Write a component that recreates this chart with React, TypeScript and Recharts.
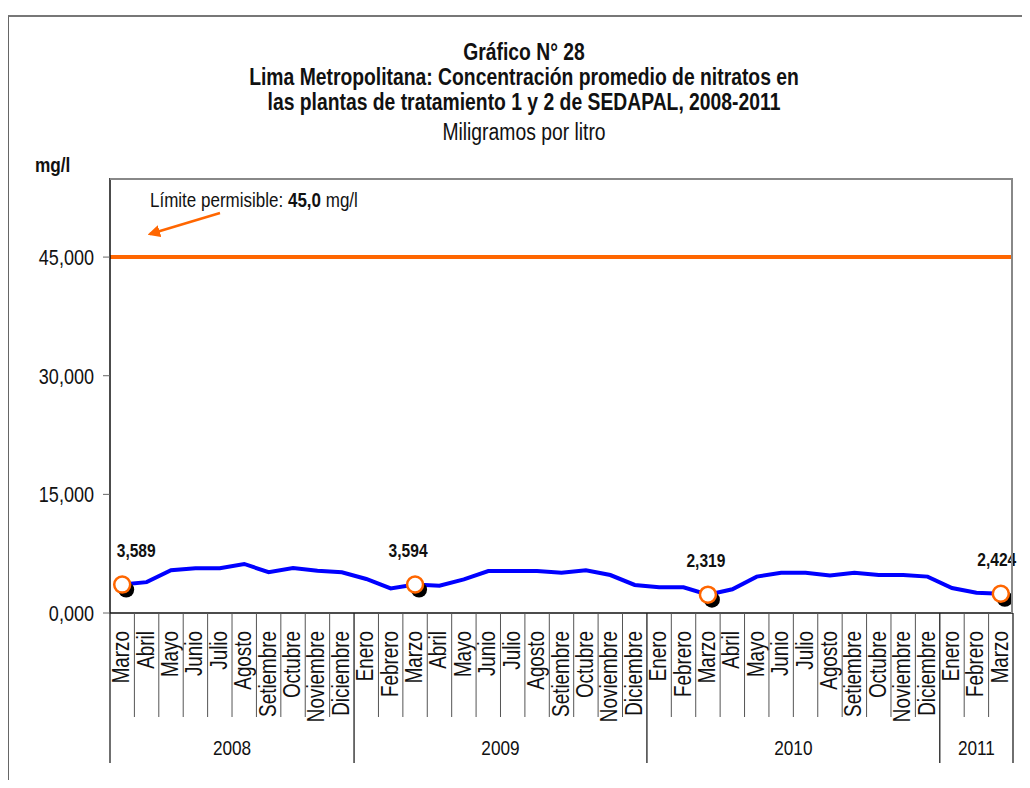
import { LineChart, Line, XAxis, YAxis, ReferenceLine, LabelList } from 'recharts'

const meses = [
  'Marzo', 'Abril', 'Mayo', 'Junio', 'Julio', 'Agosto', 'Setiembre', 'Octubre', 'Noviembre', 'Diciembre',
  'Enero', 'Febrero', 'Marzo', 'Abril', 'Mayo', 'Junio', 'Julio', 'Agosto', 'Setiembre', 'Octubre', 'Noviembre', 'Diciembre',
  'Enero', 'Febrero', 'Marzo', 'Abril', 'Mayo', 'Junio', 'Julio', 'Agosto', 'Setiembre', 'Octubre', 'Noviembre', 'Diciembre',
  'Enero', 'Febrero', 'Marzo',
]

const nitratos = [
  3.589, 3.9, 5.4, 5.65, 5.65, 6.2, 5.15, 5.7, 5.35, 5.15,
  4.3, 3.1, 3.594, 3.45, 4.25, 5.3, 5.3, 5.3, 5.1, 5.4, 4.8, 3.55,
  3.25, 3.25, 2.319, 3.0, 4.6, 5.1, 5.1, 4.75, 5.1, 4.8, 4.8, 4.6,
  3.15, 2.55, 2.424,
]

const anios = ['2008', '2009', '2010', '2011']
const mesesPorAnio = [10, 12, 12, 3]

// puntos resaltados (marzo de cada año)
const marcados = [0, 12, 24, 36]

const yTicks = [0, 15, 30, 45]
const limite = 45

// inicio de cada grupo de año (indices)
const yearStarts: number[] = []
mesesPorAnio.reduce((acc, n) => { yearStarts.push(acc); return acc + n }, 0)

const anioDe = (i: number) => anios[yearStarts.filter(s => s <= i).length - 1]
const data = meses.map((mes, i) => ({ key: `${mes} ${anioDe(i)}`, mes, valor: nitratos[i] }))

const W = 1030
const H = 788
const PLOT_L = 110
const PLOT_R = 1013
const PLOT_T = 178
const PLOT_B = 613
const BAND = (PLOT_R - PLOT_L) / meses.length
const FONT = '"Liberation Sans", Arial, sans-serif'
const NARROW = 0.82
const labelDx = [14, -7, -2, -4]

const fmt = (v: number) => v.toFixed(3).replace('.', ',')

// texto "Arial Narrow": Liberation Sans comprimido horizontalmente
const NText = ({ x, y, rotate = 0, anchor = 'start', size, bold = false, children }: any) => (
  <g transform={`translate(${x} ${y}) rotate(${rotate}) scale(${NARROW} 1)`}>
    <text x={0} y={0} textAnchor={anchor} fontFamily={FONT} fontSize={size}
      fontWeight={bold ? 'bold' : 'normal'} fill="#111">
      {children}
    </text>
  </g>
)

const MonthTick = ({ x, index }: any) => {
  const left = x - BAND / 2
  const isYear = yearStarts.includes(index)
  const last = index === meses.length - 1
  const g = yearStarts.indexOf(index)
  return (
    <g>
      <line x1={left} x2={left} y1={PLOT_B} y2={isYear ? 763 : 717}
        stroke={isYear ? '#222' : '#555'} strokeWidth={isYear ? 1.3 : 1} />
      {last && (
        <line x1={x + BAND / 2} x2={x + BAND / 2} y1={PLOT_B} y2={763} stroke="#222" strokeWidth={1.3} />
      )}
      <NText x={x + 7} y={631} rotate={-90} anchor="end" size={23}>{meses[index]}</NText>
      {g >= 0 && (
        <NText x={left + (mesesPorAnio[g] * BAND) / 2} y={755} anchor="middle" size={21}>{anios[g]}</NText>
      )}
    </g>
  )
}

const YTick = ({ x, y, payload }: any) => (
  <NText x={x - 7} y={y + 8} anchor="end" size={22}>{fmt(payload.value)}</NText>
)

const Marker = (props: any) => {
  const { cx, cy, index } = props
  if (!marcados.includes(index) || cx == null) return <g key={`d${index}`} />
  return (
    <g key={`d${index}`}>
      <circle cx={cx + 4} cy={cy + 5} r={8} fill="#000" />
      <circle cx={cx} cy={cy} r={8} fill="#fff" stroke="#FF6600" strokeWidth={2.5} />
    </g>
  )
}

const PointLabel = (props: any) => {
  const { x, y, index, value } = props
  const i = marcados.indexOf(index)
  if (i < 0) return null
  return <NText x={x + labelDx[i]} y={y - 28} anchor="middle" size={19} bold>{fmt(value)}</NText>
}

const narrowDiv: React.CSSProperties = {
  position: 'absolute', left: 9, width: W, textAlign: 'center', fontFamily: FONT,
  color: '#111', lineHeight: '25px', transform: 'scaleX(0.84)', transformOrigin: '515px 0',
  whiteSpace: 'nowrap',
}

export default function App() {
  return (
    <div style={{ position: 'relative', width: W, height: H, margin: -8, background: '#fff', overflow: 'hidden' }}>
      {/* marco exterior */}
      <div style={{
        position: 'absolute', left: 7, top: 15, width: W, height: H,
        borderLeft: '2px solid #666', borderTop: '2px solid #777',
      }} />
      <div style={{ ...narrowDiv, top: 40, fontSize: 23, fontWeight: 'bold' }}>
        Gráfico N° 28<br />
        Lima Metropolitana: Concentración promedio de nitratos en<br />
        las plantas de tratamiento 1 y 2 de SEDAPAL, 2008-2011
      </div>
      <div style={{ ...narrowDiv, top: 120, fontSize: 23 }}>Miligramos por litro</div>
      <div style={{
        ...narrowDiv, left: 35, width: 'auto', top: 152, fontSize: 21, fontWeight: 'bold',
        transform: `scaleX(${NARROW})`, transformOrigin: '0 0', textAlign: 'left',
      }}>mg/l</div>

      <LineChart
        width={W}
        height={H}
        data={data}
        margin={{ top: PLOT_T, right: W - PLOT_R, bottom: 0, left: 0 }}
        style={{ position: 'absolute', left: 0, top: 0 }}
      >
        <XAxis
          dataKey="key"
          interval={0}
          padding={{ left: BAND / 2, right: BAND / 2 }}
          tickLine={false}
          axisLine={{ stroke: '#111', strokeWidth: 1.5 }}
          tick={<MonthTick />}
          height={H - PLOT_B}
        />
        <YAxis
          domain={[0, 55]}
          ticks={yTicks}
          tickSize={7}
          tickLine={{ stroke: '#666' }}
          axisLine={{ stroke: '#111', strokeWidth: 1.5 }}
          tick={<YTick />}
          width={PLOT_L}
        />
        <ReferenceLine y={limite} stroke="#FF6600" strokeWidth={4} />
        <Line
          dataKey="valor"
          stroke="#0000FF"
          strokeWidth={4}
          dot={Marker}
          activeDot={false}
          isAnimationActive={false}
        >
          <LabelList dataKey="valor" content={<PointLabel />} />
        </Line>
      </LineChart>

      {/* borde superior y derecho del área de trazado */}
      <div style={{
        position: 'absolute', left: PLOT_L, top: PLOT_T, width: PLOT_R - PLOT_L,
        height: PLOT_B - PLOT_T, borderTop: '2px solid #888', borderRight: '2px solid #888',
        boxSizing: 'border-box', pointerEvents: 'none',
      }} />

      {/* anotación del límite */}
      <div style={{
        ...narrowDiv, left: 150, width: 'auto', top: 188, fontSize: 20, fontWeight: 'normal',
        transform: 'scaleX(0.85)', transformOrigin: '0 0', textAlign: 'left',
      }}>
        Límite permisible: <b>45,0</b> mg/l
      </div>
      <svg width={W} height={H} style={{ position: 'absolute', left: 0, top: 0, pointerEvents: 'none' }}>
        <defs>
          <marker id="flecha" viewBox="0 0 10 10" refX="8" refY="5" markerWidth="5" markerHeight="5" orient="auto">
            <path d="M0,0 L10,5 L0,10 z" fill="#FF6600" />
          </marker>
        </defs>
        <line x1={220} y1={213} x2={150} y2={234} stroke="#FF6600" strokeWidth={2.5} markerEnd="url(#flecha)" />
      </svg>
    </div>
  )
}
